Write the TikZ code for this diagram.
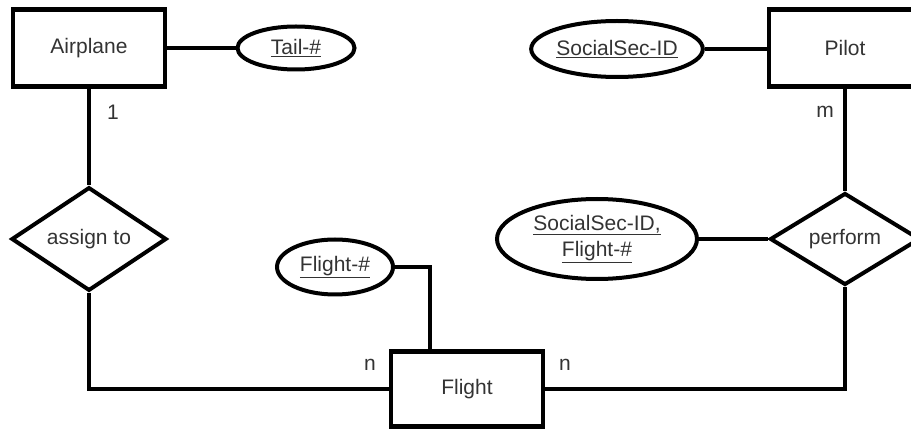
\documentclass[tikz,border=0pt]{standalone}
\usepackage{fontspec}
\setmainfont{Liberation Sans}
\usetikzlibrary{shapes.geometric}

\begin{document}
\begin{tikzpicture}[x=1pt,y=-1pt,
        every node/.style={font=\fontsize{21}{26}\selectfont, text=black!80},
        entity/.style={draw, line width=4.5pt, minimum width=152pt, minimum height=77pt, inner sep=0pt},
        relation/.style={diamond, draw, line width=4pt, minimum width=155pt, minimum height=75pt, inner sep=0pt},
        attrib/.style={ellipse, draw, line width=4pt, inner sep=0pt},
        card/.style={inner sep=0pt},
        link/.style={line width=4pt}]
        \useasboundingbox (0,0) rectangle (911,430);
        \clip (0,0) rectangle (911,430);
        % entities and attributes
        \node[entity] (airplane) at (89,48) {Airplane};
        \node[attrib, minimum width=117pt, minimum height=43pt] (tail) at (296,48) {\underline{Tail-\#}};
        \node[attrib, minimum width=154pt, minimum height=56pt] (ssid) at (617,49) {\underline{SocialSec-ID}};
        \node[entity] (pilot) at (845,48) {Pilot};
        \node[relation] (assign) at (89,239) {assign to};
        \node[relation, minimum width=150pt] (perform) at (845,239) {perform};
        \node[attrib, minimum width=200pt, minimum height=80pt, align=center] (ssidflight) at (597,239) {\underline{SocialSec-ID,}\\\underline{Flight-\#}};
        \node[attrib, minimum width=116pt, minimum height=55pt] (flightnum) at (335,267) {\underline{Flight-\#}};
        \node[entity, minimum height=75pt] (flight) at (467,389) {Flight};
        % cardinalities
        \node[card] (one) at (113,112) {1};
        \node[card] (many) at (825,112) {m};
        \node[card] (nleft) at (370,365) {n};
        \node[card] (nright) at (565,365) {n};
        % connectors
        \draw[link] (airplane) -- (tail);
        \draw[link] (ssid) -- (ssid -| pilot.west);
        \draw[link] (airplane) -- (assign);
        \draw[link] (pilot) -- (perform);
        \draw[link] (ssidflight) -- (perform);
        \draw[link] (assign.south) |- (flight.west);
        \draw[link] (flight.east) -| (perform.south);
        \coordinate (bend) at (430,267);
        \draw[link] (flightnum.east) -- (bend) -- (bend |- flight.north);
    \end{tikzpicture}
\end{document}
